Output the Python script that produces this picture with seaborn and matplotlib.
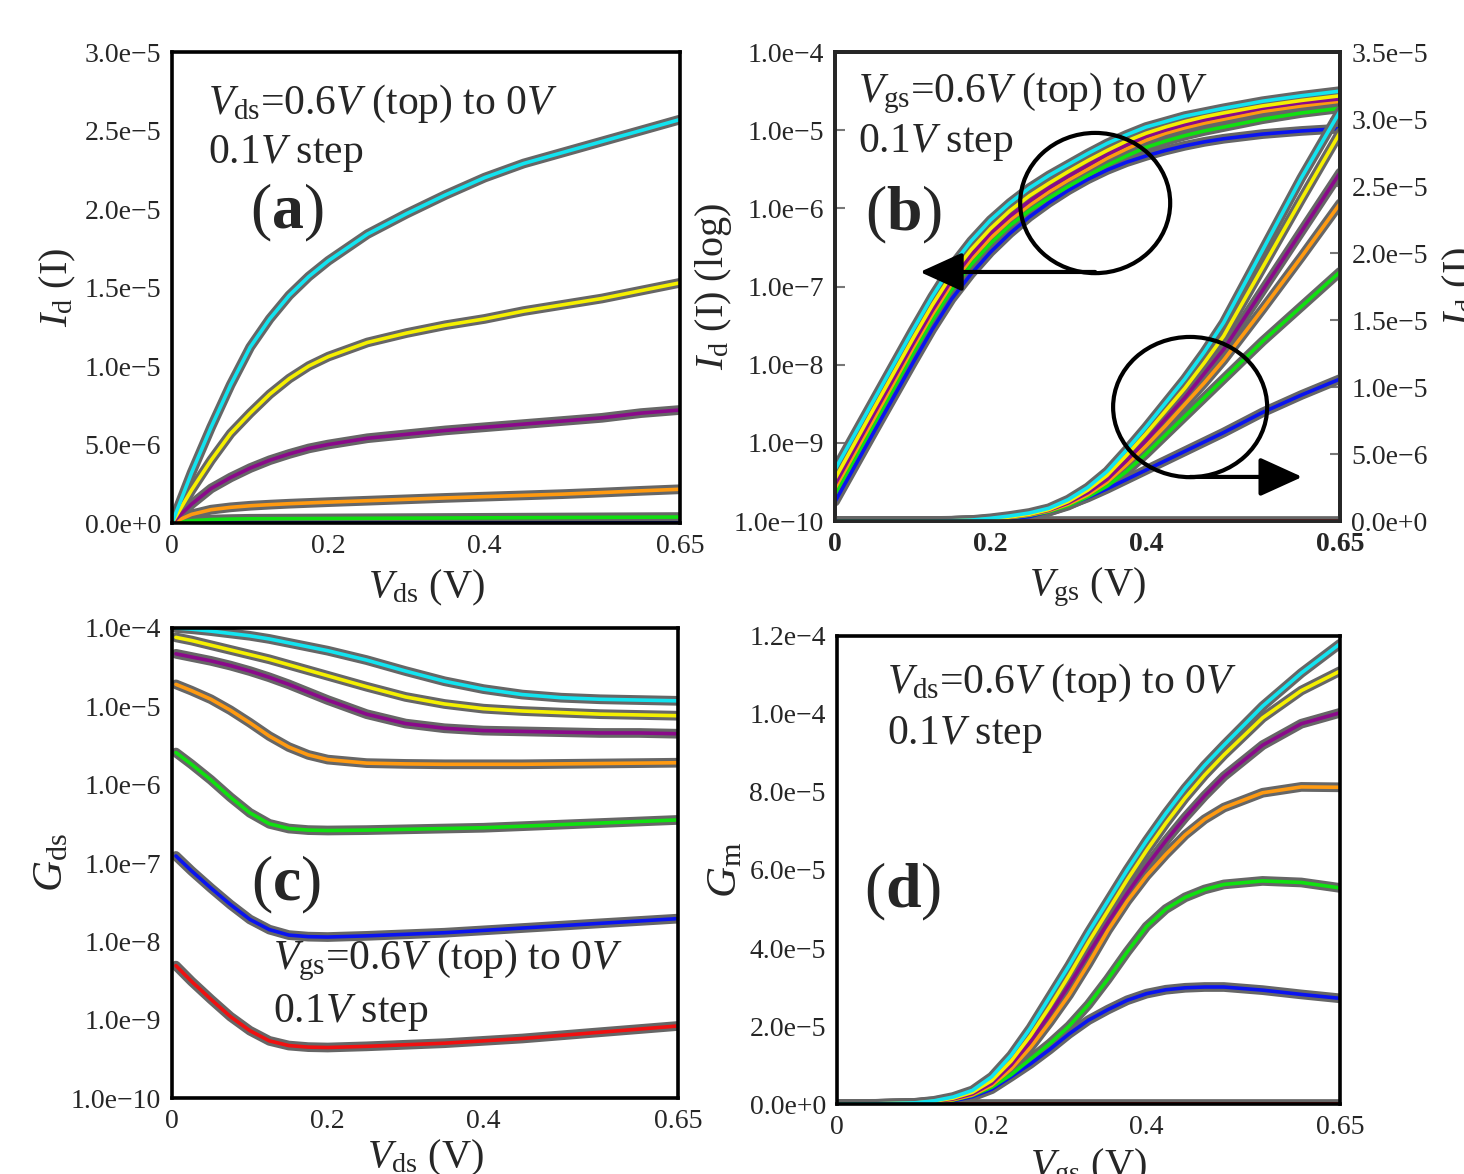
import numpy as np
import pandas as pd
import matplotlib
matplotlib.use("Agg")
import matplotlib.pyplot as plt
import seaborn as sns
from matplotlib.patches import Ellipse
from matplotlib.ticker import FixedLocator, FuncFormatter, LogLocator, NullLocator

# -----------------------------
# 1. DATA
# -----------------------------
curves = ["0.6", "0.5", "0.4", "0.3", "0.2", "0.1", "0.0"]
colors = ["#12e4f0", "#f5f000", "#8a0a8a", "#ff9a10", "#10e010", "#0a14f0", "#f01010"]

# (a) Id vs Vds, units 1e-5 A
vds_a = [0, 0.025, 0.05, 0.075, 0.1, 0.125, 0.15, 0.175, 0.2, 0.25, 0.3, 0.35, 0.4, 0.45, 0.5, 0.55, 0.6, 0.65]
id_a = {
    "0.6": [0, 0.32, 0.61, 0.88, 1.12, 1.30, 1.45, 1.57, 1.67, 1.84, 1.97, 2.09, 2.20, 2.29, 2.36, 2.43, 2.50, 2.57],
    "0.5": [0, 0.21, 0.40, 0.57, 0.70, 0.82, 0.92, 1.00, 1.06, 1.15, 1.21, 1.26, 1.30, 1.35, 1.39, 1.43, 1.48, 1.53],
    "0.4": [0, 0.12, 0.22, 0.29, 0.35, 0.40, 0.44, 0.475, 0.50, 0.54, 0.565, 0.59, 0.61, 0.63, 0.65, 0.67, 0.70, 0.72],
    "0.3": [0, 0.055, 0.085, 0.10, 0.11, 0.117, 0.123, 0.128, 0.133, 0.142, 0.151, 0.16, 0.168, 0.176, 0.184, 0.194, 0.205, 0.215],
    "0.2": [0, 0.015, 0.022, 0.025, 0.027, 0.0275, 0.028, 0.0285, 0.029, 0.030, 0.031, 0.032, 0.033, 0.034, 0.035, 0.036, 0.037, 0.038],
    "0.1": [0, 0.0005, 0.0008, 0.0009, 0.001, 0.001, 0.001, 0.0011, 0.0011, 0.0011, 0.0012, 0.0012, 0.0013, 0.0013, 0.0014, 0.0014, 0.0015, 0.0015],
    "0.0": [0] * 18,
}

# (b) Id vs Vgs: log10(Id) on the left axis, Id in 1e-6 A on the right axis
vgs_b = [0, 0.05, 0.1, 0.125, 0.15, 0.175, 0.2, 0.225, 0.25, 0.275, 0.3, 0.325, 0.35, 0.375,
         0.4, 0.425, 0.45, 0.475, 0.5, 0.55, 0.6, 0.65]
logid_b = {
    "0.6": [-9.34, -8.45, -7.56, -7.13, -6.74, -6.42, -6.15, -5.93, -5.74, -5.58, -5.44, -5.30, -5.17, -5.06,
            -4.96, -4.89, -4.82, -4.77, -4.72, -4.63, -4.56, -4.50],
    "0.5": [-9.46, -8.56, -7.67, -7.24, -6.85, -6.53, -6.26, -6.03, -5.84, -5.68, -5.53, -5.39, -5.26, -5.14,
            -5.04, -4.96, -4.89, -4.83, -4.78, -4.69, -4.62, -4.56],
    "0.4": [-9.53, -8.63, -7.74, -7.31, -6.92, -6.60, -6.32, -6.10, -5.91, -5.74, -5.59, -5.45, -5.31, -5.19,
            -5.08, -5.00, -4.93, -4.87, -4.82, -4.72, -4.65, -4.60],
    "0.3": [-9.58, -8.69, -7.79, -7.36, -6.97, -6.65, -6.38, -6.15, -5.96, -5.79, -5.64, -5.50, -5.36, -5.24,
            -5.13, -5.04, -4.97, -4.91, -4.86, -4.76, -4.69, -4.63],
    "0.2": [-9.65, -8.76, -7.86, -7.43, -7.04, -6.72, -6.45, -6.22, -6.03, -5.87, -5.72, -5.58, -5.45, -5.33,
            -5.22, -5.14, -5.07, -5.01, -4.96, -4.86, -4.78, -4.72],
    "0.1": [-9.75, -8.86, -7.98, -7.55, -7.16, -6.84, -6.56, -6.32, -6.11, -5.93, -5.77, -5.63, -5.51, -5.41,
            -5.33, -5.26, -5.20, -5.15, -5.11, -5.05, -5.01, -4.98],
}
idlin_b = {
    "0.6": [0, 0, 0, 0.005, 0.02, 0.07, 0.2, 0.38, 0.6, 0.95, 1.6, 2.5, 3.7, 5.3, 7.0, 8.8, 10.6, 12.6, 14.8, 20.2, 25.6, 30.6],
    "0.5": [0, 0, 0, 0.004, 0.015, 0.05, 0.15, 0.3, 0.5, 0.85, 1.45, 2.3, 3.4, 4.9, 6.5, 8.2, 9.9, 11.8, 13.8, 18.9, 24.0, 29.0],
    "0.4": [0, 0, 0, 0.003, 0.012, 0.045, 0.12, 0.28, 0.48, 0.8, 1.35, 2.1, 3.1, 4.5, 6.0, 7.6, 9.2, 11.0, 12.8, 17.2, 21.6, 26.0],
    "0.3": [0, 0, 0, 0.003, 0.012, 0.04, 0.12, 0.26, 0.45, 0.75, 1.25, 1.95, 2.9, 4.2, 5.6, 7.1, 8.7, 10.3, 12.0, 15.8, 19.7, 23.7],
    "0.2": [0, 0, 0, 0.002, 0.01, 0.035, 0.1, 0.24, 0.42, 0.7, 1.15, 1.8, 2.6, 3.7, 5.0, 6.4, 7.8, 9.2, 10.6, 13.4, 16.0, 18.6],
    "0.1": [0, 0, 0, 0.002, 0.008, 0.02, 0.05, 0.15, 0.33, 0.7, 1.2, 1.75, 2.4, 3.1, 3.8, 4.5, 5.2, 5.9, 6.6, 8.1, 9.4, 10.6],
    "0.0": [0] * 22,
}

# (c) log10(Gds) vs Vds
vds_c = [0.005, 0.025, 0.05, 0.075, 0.1, 0.125, 0.15, 0.175, 0.2, 0.25, 0.3, 0.35, 0.4, 0.45, 0.5, 0.55, 0.6, 0.65]
loggds_c = {
    "0.6": [-4.00, -4.015, -4.04, -4.07, -4.10, -4.14, -4.19, -4.24, -4.29, -4.41, -4.55, -4.68, -4.78, -4.85, -4.89, -4.91, -4.92, -4.93],
    "0.5": [-4.12, -4.16, -4.22, -4.28, -4.34, -4.40, -4.47, -4.54, -4.61, -4.75, -4.88, -4.97, -5.03, -5.06, -5.08, -5.10, -5.11, -5.12],
    "0.4": [-4.33, -4.37, -4.42, -4.48, -4.55, -4.63, -4.72, -4.82, -4.92, -5.10, -5.22, -5.28, -5.31, -5.32, -5.33, -5.34, -5.34, -5.35],
    "0.3": [-4.72, -4.80, -4.91, -5.05, -5.21, -5.38, -5.52, -5.62, -5.68, -5.725, -5.735, -5.74, -5.74, -5.74, -5.735, -5.73, -5.725, -5.72],
    "0.2": [-5.59, -5.74, -5.94, -6.16, -6.36, -6.50, -6.56, -6.58, -6.585, -6.58, -6.57, -6.56, -6.55, -6.53, -6.51, -6.49, -6.47, -6.45],
    "0.1": [-6.91, -7.10, -7.32, -7.53, -7.72, -7.85, -7.92, -7.94, -7.945, -7.93, -7.91, -7.89, -7.86, -7.83, -7.80, -7.77, -7.74, -7.71],
    "0.0": [-8.31, -8.51, -8.74, -8.96, -9.14, -9.27, -9.33, -9.35, -9.355, -9.34, -9.32, -9.30, -9.27, -9.24, -9.20, -9.16, -9.12, -9.08],
}

# (d) Gm vs Vgs, units 1e-6
vgs_d = [0, 0.05, 0.1, 0.125, 0.15, 0.175, 0.2, 0.225, 0.25, 0.275, 0.3, 0.325, 0.35, 0.375,
         0.4, 0.425, 0.45, 0.475, 0.5, 0.55, 0.6, 0.65]
gm_d = {
    "0.6": [0, 0.05, 0.3, 0.8, 1.8, 3.5, 7.0, 12.5, 19.5, 27.5, 35.5, 44.0, 52.0, 60.0, 67.5, 74.5, 81.0, 86.8, 92.0, 102.0, 110.5, 118.0],
    "0.5": [0, 0.04, 0.25, 0.7, 1.5, 3.0, 6.0, 11.0, 17.5, 25.0, 33.0, 41.5, 49.5, 57.5, 65.0, 72.0, 78.5, 84.3, 89.5, 99.0, 106.0, 111.0],
    "0.4": [0, 0.03, 0.2, 0.6, 1.3, 2.6, 5.3, 10.0, 16.0, 23.0, 30.5, 38.5, 46.5, 54.0, 61.0, 67.5, 73.5, 79.0, 84.0, 92.0, 97.5, 100.3],
    "0.3": [0, 0.03, 0.2, 0.5, 1.1, 2.3, 4.8, 9.0, 14.5, 21.0, 28.0, 36.0, 44.5, 52.0, 58.5, 64.0, 69.0, 73.0, 76.0, 79.8, 81.3, 81.2],
    "0.2": [0, 0.02, 0.15, 0.4, 1.0, 2.2, 4.3, 7.5, 11.5, 15.5, 20.0, 25.5, 32.0, 39.0, 45.5, 50.0, 53.0, 55.0, 56.3, 57.2, 56.8, 55.4],
    "0.1": [0, 0.01, 0.1, 0.3, 0.8, 1.9, 3.8, 7.0, 10.3, 14.0, 18.0, 21.5, 24.2, 26.6, 28.3, 29.3, 29.8, 30.0, 30.0, 29.2, 28.1, 27.1],
    "0.0": [0] * 22,
}

xticks = [0, 0.2, 0.4, 0.65]
xticklabels = ["0", "0.2", "0.4", "0.65"]


def long_df(x, table, scale=1.0, log=False):
    rows = []
    for name, vals in table.items():
        for xv, yv in zip(x, vals):
            rows.append((xv, 10 ** yv if log else yv * scale, name))
    return pd.DataFrame(rows, columns=["x", "y", "curve"])


def sci(v, pos=None):
    if v == 0:
        return "0.0e+0"
    e = int(np.floor(np.log10(abs(v)) + 1e-9))
    m = round(v / 10 ** e, 1)
    sign = "\u2212" if e < 0 else "+"
    return f"{m:.1f}e{sign}{abs(e)}"


# -----------------------------
# 2. STYLE
# -----------------------------
sns.set_style("white")
plt.rcParams["font.family"] = ["Liberation Serif", "DejaVu Serif"]
plt.rcParams["mathtext.fontset"] = "custom"
plt.rcParams["mathtext.rm"] = "Liberation Serif"
plt.rcParams["mathtext.it"] = "Liberation Serif:italic"
plt.rcParams["mathtext.bf"] = "Liberation Serif:bold"
plt.rcParams["axes.unicode_minus"] = True

TICK_FS = 20
LABEL_FS = 29
NOTE_FS = 30
TAG_FS = 46
GRAY = "#666666"


def draw(ax, df, order):
    pal = [colors[curves.index(c)] for c in order]
    sns.lineplot(data=df, x="x", y="y", units="curve", estimator=None, color=GRAY,
                 lw=7, ax=ax, legend=False, sort=False)
    sns.lineplot(data=df, x="x", y="y", hue="curve", hue_order=order[::-1], palette=pal[::-1],
                 lw=2.6, ax=ax, legend=False, sort=False)


def style_axes(ax, bold_x=False):
    ax.set_xlim(0, 0.65)
    ax.xaxis.set_major_locator(FixedLocator(xticks))
    ax.set_xticklabels(xticklabels, fontweight="bold" if bold_x else "normal")
    ax.tick_params(direction="in", length=7, width=1.5, color="#777777",
                   labelsize=TICK_FS, pad=8)
    for s in ax.spines.values():
        s.set_linewidth(2.6)
        s.set_color("black")
    ax.set_xlabel("")
    ax.set_ylabel("")


fig = plt.figure(figsize=(14.64, 11.74), dpi=100)
ax_a = fig.add_axes([0.1175, 0.5545, 0.347, 0.4012])
ax_b = fig.add_axes([0.5704, 0.5562, 0.345, 0.3995])
ax_c = fig.add_axes([0.1175, 0.0647, 0.3456, 0.4004])
ax_d = fig.add_axes([0.5717, 0.0596, 0.3436, 0.3987])

# -----------------------------
# (a)
# -----------------------------
draw(ax_a, long_df(vds_a, id_a, 1e-5), curves)
style_axes(ax_a)
ax_a.set_ylim(0, 3.0e-5)
ax_a.yaxis.set_major_locator(FixedLocator(np.arange(0, 3.01e-5, 0.5e-5)))
ax_a.yaxis.set_major_formatter(FuncFormatter(sci))
ax_a.set_ylabel(r"$I_{\rm d}$ (I)", fontsize=LABEL_FS)
ax_a.set_xlabel(r"$V_{\rm ds}$ (V)", fontsize=LABEL_FS)
ax_a.yaxis.set_label_coords(-0.185, 0.5)
ax_a.xaxis.set_label_coords(0.5, -0.095)
ax_a.text(0.07, 0.89, r"$V_{\rm ds}$=0.6$V$ (top) to 0$V$", transform=ax_a.transAxes,
          fontsize=NOTE_FS, va="center")
ax_a.text(0.07, 0.785, r"0.1$V$ step", transform=ax_a.transAxes, fontsize=NOTE_FS, va="center")
ax_a.text(0.226, 0.658, r"($\mathbf{a}$)", transform=ax_a.transAxes, fontsize=TAG_FS,
          ha="center", va="center")

# -----------------------------
# (b)
# -----------------------------
ax_b.set_yscale("log")
draw(ax_b, long_df(vgs_b, logid_b, log=True), curves[:6])
style_axes(ax_b, bold_x=True)
ax_b.set_ylim(1e-10, 1e-4)
ax_b.yaxis.set_major_locator(LogLocator(base=10, numticks=10))
ax_b.yaxis.set_minor_locator(NullLocator())
ax_b.yaxis.set_major_formatter(FuncFormatter(sci))
ax_b.set_ylabel(r"$I_{\rm d}$ (I) (log)", fontsize=LABEL_FS)
ax_b.set_xlabel(r"$V_{\rm gs}$ (V)", fontsize=LABEL_FS)
ax_b.yaxis.set_label_coords(-0.2, 0.5)
ax_b.xaxis.set_label_coords(0.5, -0.095)

ax_b2 = ax_b.twinx()
draw(ax_b2, long_df(vgs_b, idlin_b, 1e-6), curves)
ax_b2.set_xlim(0, 0.65)
ax_b2.set_ylim(0, 3.5e-5)
ax_b2.yaxis.set_major_locator(FixedLocator(np.arange(0, 3.51e-5, 0.5e-5)))
ax_b2.yaxis.set_major_formatter(FuncFormatter(sci))
ax_b2.tick_params(direction="in", length=7, width=1.5, color="#777777", labelsize=TICK_FS, pad=8)
for s in ax_b2.spines.values():
    s.set_linewidth(2.6)
ax_b2.set_xlabel("")
ax_b2.set_ylabel(r"$I_{\rm d}$ (I)", fontsize=LABEL_FS)
ax_b2.yaxis.set_label_coords(1.2, 0.5)

ax_b2.text(0.046, 0.913, r"$V_{\rm gs}$=0.6$V$ (top) to 0$V$", transform=ax_b2.transAxes,
           fontsize=NOTE_FS, va="center")
ax_b2.text(0.046, 0.806, r"0.1$V$ step", transform=ax_b2.transAxes, fontsize=NOTE_FS, va="center")
ax_b2.text(0.135, 0.652, r"($\mathbf{b}$)", transform=ax_b2.transAxes, fontsize=TAG_FS,
           ha="center", va="center")
ax_b2.add_patch(Ellipse((0.515, 0.678), 0.297, 0.299, transform=ax_b2.transAxes,
                        fill=False, lw=3, ec="black", zorder=5))
ax_b2.add_patch(Ellipse((0.703, 0.243), 0.305, 0.299, transform=ax_b2.transAxes,
                        fill=False, lw=3, ec="black", zorder=5))
arrow = dict(arrowstyle="-|>,head_length=1.1,head_width=0.5", lw=3, color="black",
             mutation_scale=24, shrinkA=0, shrinkB=0)
ax_b2.annotate("", xy=(0.168, 0.531), xytext=(0.515, 0.531), xycoords="axes fraction",
               textcoords="axes fraction", arrowprops=arrow, zorder=5)
ax_b2.annotate("", xy=(0.925, 0.094), xytext=(0.703, 0.094), xycoords="axes fraction",
               textcoords="axes fraction", arrowprops=arrow, zorder=5)

# -----------------------------
# (c)
# -----------------------------
ax_c.set_yscale("log")
draw(ax_c, long_df(vds_c, loggds_c, log=True), curves)
style_axes(ax_c)
ax_c.set_ylim(1e-10, 1e-4)
ax_c.yaxis.set_major_locator(LogLocator(base=10, numticks=10))
ax_c.yaxis.set_minor_locator(NullLocator())
ax_c.yaxis.set_major_formatter(FuncFormatter(sci))
ax_c.set_ylabel(r"$G_{\rm ds}$", fontsize=LABEL_FS + 2)
ax_c.set_xlabel(r"$V_{\rm ds}$ (V)", fontsize=LABEL_FS)
ax_c.yaxis.set_label_coords(-0.2, 0.5)
ax_c.xaxis.set_label_coords(0.5, -0.085)
ax_c.text(0.2, 0.294, r"$V_{\rm gs}$=0.6$V$ (top) to 0$V$", transform=ax_c.transAxes,
          fontsize=NOTE_FS, va="center")
ax_c.text(0.2, 0.183, r"0.1$V$ step", transform=ax_c.transAxes, fontsize=NOTE_FS, va="center")
ax_c.text(0.225, 0.453, r"($\mathbf{c}$)", transform=ax_c.transAxes, fontsize=TAG_FS,
          ha="center", va="center")

# -----------------------------
# (d)
# -----------------------------
draw(ax_d, long_df(vgs_d, gm_d, 1e-6), curves)
style_axes(ax_d)
ax_d.set_ylim(0, 1.2e-4)
ax_d.yaxis.set_major_locator(FixedLocator(np.arange(0, 1.21e-4, 2e-5)))
ax_d.yaxis.set_major_formatter(FuncFormatter(sci))
ax_d.set_ylabel(r"$G_{\rm m}$", fontsize=LABEL_FS + 2)
ax_d.set_xlabel(r"$V_{\rm gs}$ (V)", fontsize=LABEL_FS)
ax_d.yaxis.set_label_coords(-0.183, 0.5)
ax_d.xaxis.set_label_coords(0.5, -0.09)
ax_d.text(0.1, 0.9, r"$V_{\rm ds}$=0.6$V$ (top) to 0$V$", transform=ax_d.transAxes,
          fontsize=NOTE_FS, va="center")
ax_d.text(0.1, 0.79, r"0.1$V$ step", transform=ax_d.transAxes, fontsize=NOTE_FS, va="center")
ax_d.text(0.131, 0.453, r"($\mathbf{d}$)", transform=ax_d.transAxes, fontsize=TAG_FS,
          ha="center", va="center")

fig.savefig("out.png", dpi=100)
